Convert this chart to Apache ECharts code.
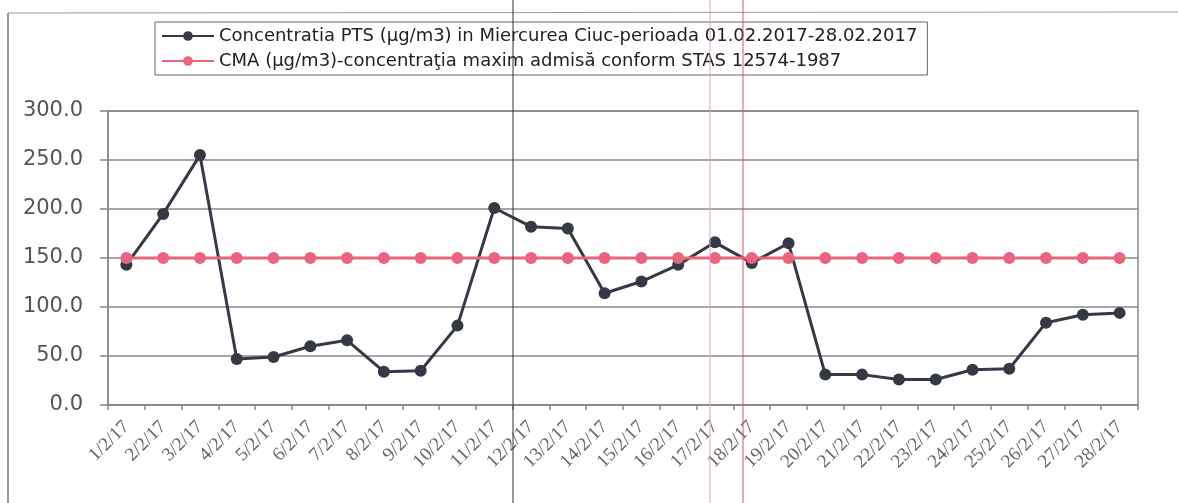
<!DOCTYPE html>
<html>
<head>
    <meta charset="utf-8">
    <title>Concentratia PTS Miercurea Ciuc</title>
    <script src="https://cdn.jsdelivr.net/npm/echarts@6/dist/echarts.min.js"></script>
    <style>
        html, body { margin: 0; padding: 0; background: #fff; }
        #main { width: 1178px; height: 503px; }
    </style>
</head>
<body>
<div id="main"></div>
<script type="text/javascript">
    // zilele lunii februarie 2017
    var days = ['1/2/17', '2/2/17', '3/2/17', '4/2/17', '5/2/17', '6/2/17', '7/2/17',
        '8/2/17', '9/2/17', '10/2/17', '11/2/17', '12/2/17', '13/2/17', '14/2/17',
        '15/2/17', '16/2/17', '17/2/17', '18/2/17', '19/2/17', '20/2/17', '21/2/17',
        '22/2/17', '23/2/17', '24/2/17', '25/2/17', '26/2/17', '27/2/17', '28/2/17'];

    // concentratia PTS (µg/m3)
    var pts = [143, 195, 255, 47, 49, 60, 66, 34, 35, 81, 201, 182, 180, 114,
        126, 143, 166, 145, 165, 31, 31, 26, 26, 36, 37, 84, 92, 94];

    // CMA (µg/m3)
    var cma = [150, 150, 150, 150, 150, 150, 150, 150, 150, 150, 150, 150, 150, 150,
        150, 150, 150, 150, 150, 150, 150, 150, 150, 150, 150, 150, 150, 150];

    var yTicks = [0, 50, 100, 150, 200, 250, 300];

    var myChart = echarts.init(document.getElementById('main'));

    var option = {
        backgroundColor: '#fff',
        animation: false,
        legend: {
            orient: 'vertical',
            left: 155,
            top: 22,
            padding: [5, 10, 5, 6],
            itemGap: 7,
            itemWidth: 52,
            itemHeight: 12,
            borderColor: '#666',
            borderWidth: 1,
            textStyle: {
                fontFamily: 'DejaVu Sans',
                fontSize: 18,
                color: '#222'
            },
            data: [
                'Concentratia PTS (µg/m3) in Miercurea Ciuc-perioada 01.02.2017-28.02.2017',
                'CMA (µg/m3)-concentraţia maxim admisă conform STAS 12574-1987'
            ]
        },
        grid: {
            left: 108,
            right: 40,
            top: 111,
            bottom: 98,
            show: true,
            borderColor: '#888',
            borderWidth: 1.5
        },
        xAxis: {
            type: 'category',
            data: days,
            boundaryGap: true,
            axisLine: { lineStyle: { color: '#888', width: 1.5 } },
            axisTick: { show: true, length: 5, lineStyle: { color: '#888', width: 1.5 } },
            axisLabel: {
                interval: 0,
                rotate: 45,
                margin: 19,
                fontFamily: 'Liberation Serif',
                fontSize: 19,
                color: '#666'
            },
            splitLine: { show: false }
        },
        yAxis: {
            type: 'value',
            min: yTicks[0],
            max: yTicks[yTicks.length - 1],
            interval: 50,
            axisLine: { show: true, lineStyle: { color: '#888', width: 1.5 } },
            axisTick: { show: true, length: 8, lineStyle: { color: '#888', width: 1.5 } },
            axisLabel: {
                margin: 25,
                fontFamily: 'DejaVu Sans',
                fontSize: 21,
                color: '#555',
                formatter: function (v) { return v.toFixed(1); }
            },
            splitLine: { lineStyle: { color: '#888', width: 1.5 } }
        },
        series: [
            {
                name: 'Concentratia PTS (µg/m3) in Miercurea Ciuc-perioada 01.02.2017-28.02.2017',
                type: 'line',
                data: pts,
                symbol: 'circle',
                symbolSize: 12,
                z: 3,
                itemStyle: { color: '#353945' },
                lineStyle: { color: '#353945', width: 3 }
            },
            {
                name: 'CMA (µg/m3)-concentraţia maxim admisă conform STAS 12574-1987',
                type: 'line',
                data: cma,
                symbol: 'circle',
                symbolSize: 12,
                z: 4,
                itemStyle: { color: '#e8657c' },
                lineStyle: { color: '#e8657c', width: 3 }
            }
        ],
        // rama graficului si urmele scanarii
        graphic: [
            { type: 'line', shape: { x1: 8, y1: 13, x2: 1178, y2: 12 }, style: { stroke: '#999', lineWidth: 1 } },
            { type: 'line', shape: { x1: 8, y1: 13, x2: 8, y2: 503 }, style: { stroke: '#777', lineWidth: 1.5 } },
            { type: 'line', shape: { x1: 513, y1: 0, x2: 513, y2: 503 }, style: { stroke: '#333', lineWidth: 1 }, z: 10 },
            { type: 'line', shape: { x1: 710, y1: 0, x2: 710, y2: 503 }, style: { stroke: '#d8a0dc', lineWidth: 1 }, z: 10 },
            { type: 'line', shape: { x1: 743, y1: 0, x2: 743, y2: 503 }, style: { stroke: '#d8508a', lineWidth: 1 }, z: 10 }
        ]
    };

    myChart.setOption(option);
</script>
</body>
</html>
